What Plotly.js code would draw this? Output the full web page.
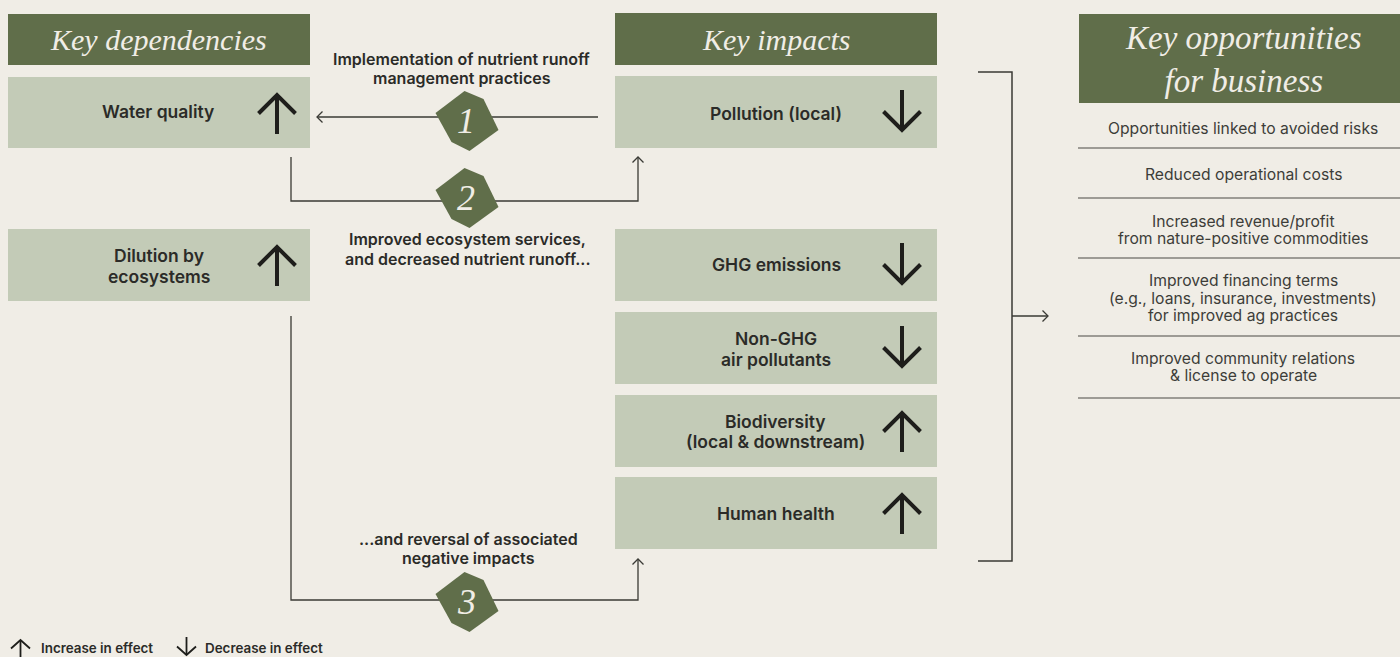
<!DOCTYPE html>
<html>
<head>
<meta charset="utf-8">
<script src="https://cdn.plot.ly/plotly-3.0.1.min.js"></script>
<style>html,body{margin:0;padding:0;background:#f0ede6}#chart{width:1400px;height:657px}</style>
</head>
<body>
<div id="chart"></div>
<script>
// ---- content ----
const headerLabels = ["Key dependencies", "Key impacts", "Key opportunities<br>for business"];
const dependencyLabels = ["Water quality", "Dilution by<br>ecosystems"];
const dependencyDirections = ["up", "up"];
const impactLabels = ["Pollution (local)", "GHG emissions", "Non-GHG<br>air pollutants", "Biodiversity<br>(local & downstream)", "Human health"];
const impactDirections = ["down", "down", "down", "up", "up"];
const opportunityLabels = [
  "Opportunities linked to avoided risks",
  "Reduced operational costs",
  "Increased revenue/profit<br>from nature-positive commodities",
  "Improved financing terms<br>(e.g., loans, insurance, investments)<br>for improved ag practices",
  "Improved community relations<br>& license to operate"
];
const connectorLabels = ["Implementation of nutrient runoff<br>management practices", "Improved ecosystem services,<br>and decreased nutrient runoff...", "...and reversal of associated<br>negative impacts"];
const badgeNumbers = ["1", "2", "3"];
const legendLabels = ["Increase in effect", "Decrease in effect"];

// ---- layout geometry (separate from the content) ----
const headerBoxes = [[8,310,14,65],[615,937,13,65],[1079,1400,14,103]];
const headerTextY = [39,39,59];
const headerTextX = [158,776,1243];
const headerFontSize = [30,30,33];
const dependencyBoxes = [[8,310,77,148],[8,310,229,301]];
const dependencyTextX = [158,159];
const dependencyTextY = [111,266];
const impactBoxes = [[615,937,76,148],[615,937,229,301],[615,937,312,384],[615,937,395,467],[615,937,477,549]];
const impactTextX = [776,776,776,775,776];
const impactTextY = [113,264,349,431.5,513];
const opportunityTextY = [128.5,174,230,298,367];
const ruleY = [148,198,258,336,398];
const connectorTextX = [462,467.5,468];
const connectorTextY = [68.5,249,548.5];
const badgeTops = [[464.5,91],[464.5,168],[464.5,572]];
const badgeOutline = [[0,0],[19,8],[34,39],[5,60],[-13,51],[-29,22]];
const legendTextX = [39,203];

const INK = "#2b2b28", LINE = "#3a3a35", DARK = "#606e4a", LIGHT = "#c3cbb7", BG = "#f0ede6";
const shapes = [], annotations = [];

function rect(b, color){ shapes.push({type:"rect",xref:"x",yref:"y",x0:b[0],x1:b[1],y0:b[2],y1:b[3],fillcolor:color,line:{width:0},layer:"below"}); }
function path(pts, color, width, fill){
  const d = pts.map((p,i)=>(i?"L":"M")+p[0]+","+p[1]).join(" ") + (fill?" Z":"");
  shapes.push({type:"path",xref:"x",yref:"y",path:d,line:{color:color,width:width},fillcolor:fill||"rgba(0,0,0,0)",layer:"above"});
}
function label(text,x,y,font,extra){
  annotations.push(Object.assign({text:text,x:x,y:y,xref:"x",yref:"y",xanchor:"center",yanchor:"middle",showarrow:false,align:"center",font:font},extra||{}));
}
// multi-line text with the reference's tighter line spacing
function lines(text,x,cy,font,lh){
  const parts = text.split("<br>");
  parts.forEach((p,i)=>label(p,x,cy+(i-(parts.length-1)/2)*lh,font));
}
const SERIF = "Liberation Serif", SANS = "Inter";

function bigArrow(cx, top, bottom, dir, half, wing, width){
  const tipY = dir==="up"?top:bottom, tailY = dir==="up"?bottom:top;
  const wingY = dir==="up"?top+wing:bottom-wing;
  path([[cx,tailY],[cx,tipY]],"#1e1e1b",width);
  path([[cx-half,wingY],[cx,tipY],[cx+half,wingY]],"#1e1e1b",width);
}
function boxArrow(cx,b,dir){
  if(dir==="up") bigArrow(cx,b[2]+18,b[2]+57,dir,18.5,18.5,4);
  else bigArrow(cx,b[2]+14,b[2]+54,dir,18.5,18.5,4);
}
function smallHead(x,y,dir){
  const s=5.5;
  if(dir==="left") path([[x+s,y-s],[x,y],[x+s,y+s]],LINE,1.3);
  if(dir==="right") path([[x-s,y-s],[x,y],[x-s,y+s]],LINE,1.3);
  if(dir==="up") path([[x-s,y+s],[x,y],[x+s,y+s]],LINE,1.3);
}

headerBoxes.forEach(b=>rect(b,DARK));
dependencyBoxes.forEach(b=>rect(b,LIGHT));
impactBoxes.forEach(b=>rect(b,LIGHT));
ruleY.forEach(y=>path([[1078,y],[1400,y]],"#4a4a45",1.2));
path([[598,117],[317,117]],LINE,1.3); smallHead(317,117,"left");
path([[291,157],[291,201],[638,201],[638,157]],LINE,1.3); smallHead(638,157,"up");
path([[291,316],[291,600],[638,600],[638,559]],LINE,1.3); smallHead(638,559,"up");
path([[978,72],[1012,72],[1012,561],[978,561]],LINE,1.5);
path([[1012,316],[1048,316]],LINE,1.3); smallHead(1048,316,"right");
badgeTops.forEach((t,i)=>{
  path(badgeOutline.map(p=>[t[0]+p[0],t[1]+p[1]]),DARK,0,DARK);
  label(badgeNumbers[i],466,t[1]+30,{family:SERIF,size:36,color:BG,style:"italic"});
});
dependencyBoxes.forEach((b,i)=>boxArrow(277,b,dependencyDirections[i]));
impactBoxes.forEach((b,i)=>boxArrow(902,b,impactDirections[i]));
bigArrow(20.5,640,659,"up",9.5,8.5,1.8);
bigArrow(186.5,637,655,"down",9.5,8.5,1.8);

headerLabels.forEach((t,i)=>label(t,headerTextX[i],headerTextY[i],{family:SERIF,size:headerFontSize[i],color:"#f0ede6",style:"italic"}));
const boxFont = {family:SANS,size:17.5,color:INK,weight:600};
dependencyLabels.forEach((t,i)=>lines(t,dependencyTextX[i],dependencyTextY[i],boxFont,20.5));
impactLabels.forEach((t,i)=>lines(t,impactTextX[i],impactTextY[i],boxFont,20.5));
opportunityLabels.forEach((t,i)=>lines(t,1243,opportunityTextY[i],{family:SANS,size:15.7,color:"#3d3d39"},17.7));
connectorLabels.forEach((t,i)=>lines(t,connectorTextX[i],connectorTextY[i],{family:SANS,size:16,color:INK,weight:600},19.2));
legendLabels.forEach((t,i)=>label(t,legendTextX[i],647.5,{family:SANS,size:13.4,color:INK,weight:600},{xanchor:"left"}));

const layout = {
  width:1400,height:657,margin:{l:0,r:0,t:0,b:0},
  paper_bgcolor:BG,plot_bgcolor:BG,showlegend:false,
  xaxis:{range:[0,1400],visible:false,fixedrange:true},
  yaxis:{range:[657,0],visible:false,fixedrange:true},
  shapes:shapes,annotations:annotations
};
Plotly.newPlot("chart",[],layout,{displayModeBar:false,staticPlot:true});
</script>
</body>
</html>
